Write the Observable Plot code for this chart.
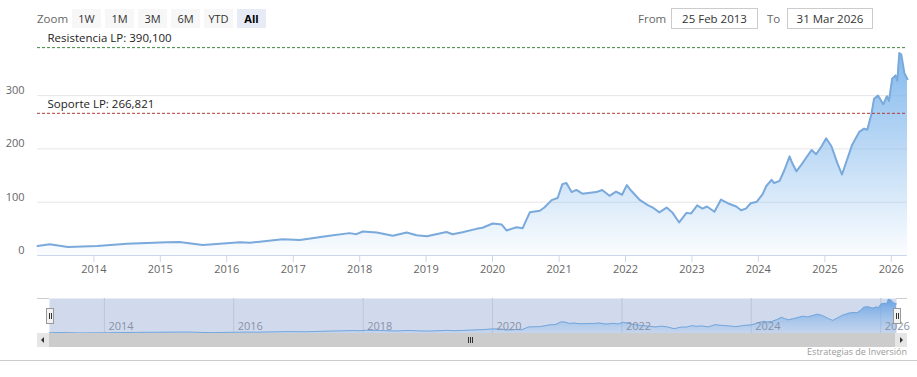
<!DOCTYPE html>
<html><head><meta charset="utf-8">
<script src="https://cdn.jsdelivr.net/npm/d3@7"></script>
<script src="https://cdn.jsdelivr.net/npm/@observablehq/plot@0.6"></script>
<style>
body{margin:0;background:#fff;font-family:"Open Sans",sans-serif;}
#wrap{position:relative;width:917px;height:377px;overflow:hidden;background:#fff;}
.abs{position:absolute;}
.btn{position:absolute;top:9px;height:19px;width:29px;background:#f7f7f7;color:#333;font-size:11px;line-height:19px;text-align:center;}
.btn.sel{background:#e6ebf5;font-weight:bold;color:#000;}
.lbl{position:absolute;top:9px;line-height:19px;font-size:11.5px;color:#666;}
.inp{position:absolute;top:8px;height:19px;border:1px solid #ccc;font-size:11.5px;line-height:19px;color:#333;text-align:center;}
svg{position:absolute;left:0;}
</style>
</head><body>
<div id="wrap"></div>
<script>
// ---- data ----
const dates = [
"2013-02-25","2013-05-04","2013-08-11","2014-01-19","2014-07-02","2015-02-05","2015-04-16","2015-08-22",
"2016-01-01","2016-03-14","2016-05-08","2016-07-01","2016-11-03","2017-02-06","2017-07-19","2017-11-06",
"2017-12-13","2018-01-19","2018-04-05","2018-07-02","2018-09-16","2018-11-10","2019-01-05","2019-04-23",
"2019-05-27","2019-07-20","2019-10-05","2019-11-07","2020-01-02","2020-02-21","2020-03-18","2020-05-12",
"2020-06-14","2020-07-24","2020-09-17","2020-10-12","2020-11-21","2020-12-24","2021-01-19","2021-02-10",
"2021-03-11","2021-04-06","2021-05-09","2021-07-24","2021-08-26","2021-10-05","2021-11-10","2021-12-13",
"2022-01-08","2022-02-03","2022-03-18","2022-05-01","2022-05-31","2022-07-06","2022-08-15","2022-09-17",
"2022-10-23","2022-12-02","2022-12-28","2023-01-30","2023-02-28","2023-03-25","2023-05-05","2023-06-10",
"2023-07-24","2023-09-02","2023-09-28","2023-10-25","2023-11-20","2023-12-24","2024-01-25","2024-02-13",
"2024-03-14","2024-03-28","2024-04-27","2024-05-23","2024-06-21","2024-07-06","2024-07-28","2024-08-26",
"2024-09-21","2024-10-20","2024-11-14","2024-12-14","2025-01-08","2025-02-06","2025-03-11","2025-04-05",
"2025-05-05","2025-05-31","2025-07-09","2025-08-04","2025-08-22","2025-09-13","2025-09-28","2025-10-20",
"2025-11-18","2025-12-08","2025-12-19","2026-01-06","2026-01-24","2026-02-03","2026-02-14","2026-02-25",
"2026-03-14","2026-03-31"
];
const values = [
18,21,16,18,22,25,25.5,19.5,
23,25,24,26,30.5,29,37,42,
40,45,43,37,43,38,36,44,
40,43.5,50,52,60,58,47,53,
51,81,84,90,104,108,134,136,
119,123,116,119,123,112,120,114,
132,121,105,95,90,81,90,80,
62,80,79,94,88,92,82,105,
97,92,85,88,98,101,115,130,
142,136,140,160,186,173,158,171,
184,198,190,205,220,205,173,152,
182,208,232,238,236,264,294,300,
284,299,290,332,338,328,380,377,
342,331
];
const levelLabels = ["Resistencia LP: 390,100", "Soporte LP: 266,821"];
const levelValues = [390.1, 266.821];
const yTicks = [0, 100, 200, 300];
const xTickYears = [2014,2015,2016,2017,2018,2019,2020,2021,2022,2023,2024,2025,2026];
const navTickYears = [2014,2016,2018,2020,2022,2024,2026];
const zoomButtons = ["1W","1M","3M","6M","YTD","All"];
const fromText = "25 Feb 2013";
const toText = "31 Mar 2026";
const creditText = "Estrategias de Inversión";

// ---- build ----
const data = dates.map((d, i) => ({date: new Date(d), value: values[i]}));
const xDomain = [new Date(dates[0]), new Date(dates[dates.length - 1])];
const xTicks = xTickYears.map(y => new Date(Date.UTC(y, 0, 1)));
const navTicks = navTickYears.map(y => new Date(Date.UTC(y, 0, 1)));
const levels = levelValues.map((v, i) => ({value: v, label: levelLabels[i]}));
const wrap = document.getElementById("wrap");
const NS = "http://www.w3.org/2000/svg";

function addGrad(svg, id, stops) {
  const defs = document.createElementNS(NS, "defs");
  const g = document.createElementNS(NS, "linearGradient");
  g.setAttribute("id", id);
  g.setAttribute("x1", "0"); g.setAttribute("y1", "0");
  g.setAttribute("x2", "0"); g.setAttribute("y2", "1");
  for (const [o, c, a] of stops) {
    const s = document.createElementNS(NS, "stop");
    s.setAttribute("offset", o);
    s.setAttribute("stop-color", c);
    s.setAttribute("stop-opacity", a);
    g.appendChild(s);
  }
  defs.appendChild(g);
  svg.insertBefore(defs, svg.firstChild);
}

const main = Plot.plot({
  width: 917, height: 285,
  marginTop: 36, marginBottom: 30, marginLeft: 37, marginRight: 10,
  style: {fontFamily: "Open Sans", fontSize: "11px", background: "transparent", overflow: "visible"},
  x: {type: "utc", domain: xDomain},
  y: {domain: [0, 411]},
  marks: [
    Plot.gridY(yTicks, {stroke: "#e6e6e6", strokeOpacity: 1}),
    Plot.axisY(yTicks, {tickSize: 0, tickPadding: 13, dy: -5, fill: "#666", label: null}),
    Plot.areaY(data, {x: "date", y: "value", fill: "url(#mainGrad)"}),
    Plot.lineY(data, {x: "date", y: "value", stroke: "#7aa9dc", strokeWidth: 2}),
    Plot.ruleY([0], {stroke: "#ccd6eb"}),
    Plot.axisX(xTicks, {tickSize: 7, tickPadding: 3, stroke: "#ccd6eb", fill: "#666", label: null, tickFormat: d3.utcFormat("%Y")}),
    Plot.ruleY([levels[0]], {y: "value", stroke: "#3d873d", strokeDasharray: "3,2"}),
    Plot.ruleY([levels[1]], {y: "value", stroke: "#b03a3a", strokeDasharray: "3,2"}),
    Plot.text(levels, {x: () => xDomain[0], y: "value", text: "label", textAnchor: "start", dx: 10, dy: -9, fill: "#222", fontSize: 11.5})
  ]
});
addGrad(main, "mainGrad", [["0", "#7cb5ec", 0.95], ["1", "#7cb5ec", 0.03]]);
main.style.top = "0px";
wrap.appendChild(main);

const nav = Plot.plot({
  width: 917, height: 50,
  marginTop: 8, marginBottom: 7, marginLeft: 49, marginRight: 21,
  style: {fontFamily: "Open Sans", fontSize: "11px", background: "transparent", overflow: "visible"},
  x: {type: "utc", domain: xDomain, axis: null},
  y: {domain: [10, 390], axis: null},
  marks: [
    Plot.frame({fill: "#d1daed", stroke: null}),
    Plot.ruleX(navTicks, {stroke: "#bcc6db"}),
    Plot.areaY(data, {x: "date", y1: 10, y2: "value", fill: "url(#navGrad)"}),
    Plot.lineY(data, {x: "date", y: "value", stroke: "#74a6dc", strokeWidth: 1}),
    Plot.text(navTicks, {x: d => d, frameAnchor: "bottom", dy: -4, dx: 4, textAnchor: "start", text: d3.utcFormat("%Y"), fill: "#8892a6", fontSize: 11})
  ]
});
addGrad(nav, "navGrad", [["0", "#5e9ae0", 0.9], ["1", "#7cb5ec", 0.15]]);
nav.style.top = "290px";
wrap.appendChild(nav);

// ---- range selector / inputs ----
function div(cls, css, text) {
  const d = document.createElement("div");
  d.className = cls; d.style.cssText = css;
  if (text != null) d.textContent = text;
  wrap.appendChild(d); return d;
}
div("lbl", "left:37px;", "Zoom");
zoomButtons.forEach((b, i) => div("btn" + (b === "All" ? " sel" : ""), `left:${72 + i * 33}px;`, b));
div("lbl", "left:638px;", "From");
div("inp", "left:671px;width:85px;", fromText);
div("lbl", "left:767px;", "To");
div("inp", "left:787px;width:84px;", toText);

// ---- navigator decorations ----
div("abs", "left:37px;top:298px;width:12px;height:1px;background:#ccc;");
div("abs", "left:896px;top:298px;width:11px;height:1px;background:#ccc;");
for (const hx of [46, 893]) {
  const h = div("abs", `left:${hx}px;top:308px;width:6px;height:14px;background:#f2f2f2;border:1px solid #999;`);
  h.innerHTML = '<div style="position:absolute;left:2px;top:4px;width:1px;height:6px;background:#333"></div><div style="position:absolute;left:4px;top:4px;width:1px;height:6px;background:#333"></div>';
}
div("abs", "left:37px;top:333px;width:870px;height:14px;background:#cccccc;");
div("abs", "left:37px;top:333px;width:12px;height:14px;background:#e6e6e6;");
div("abs", "left:895px;top:333px;width:12px;height:14px;background:#e6e6e6;");
div("abs", "left:41px;top:337px;width:0;height:0;border-top:3px solid transparent;border-bottom:3px solid transparent;border-right:3px solid #333;");
div("abs", "left:900px;top:337px;width:0;height:0;border-top:3px solid transparent;border-bottom:3px solid transparent;border-left:3px solid #333;");
for (const gx of [468, 470, 472]) div("abs", `left:${gx}px;top:337px;width:1px;height:6px;background:#333;`);
div("abs", "left:0;top:360px;width:917px;height:1px;background:#ccc;");
div("abs", "right:10px;top:345px;font-size:9px;color:#999;", creditText);
</script>
</body></html>
